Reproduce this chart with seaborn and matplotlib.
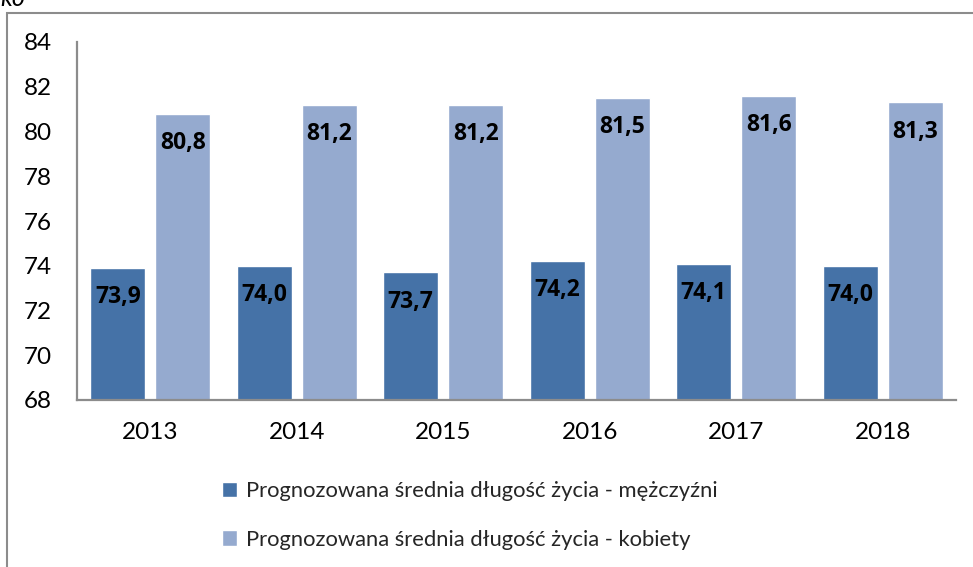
import matplotlib
matplotlib.use("Agg")
import matplotlib.pyplot as plt
import seaborn as sns
import pandas as pd
from matplotlib.patches import Rectangle

years = ["2013", "2014", "2015", "2016", "2017", "2018"]
men = [73.9, 74.0, 73.7, 74.2, 74.1, 74.0]
women = [80.8, 81.2, 81.2, 81.5, 81.6, 81.3]
series_names = ["Prognozowana średnia długość życia - mężczyźni",
                "Prognozowana średnia długość życia - kobiety"]
yticks = [68, 70, 72, 74, 76, 78, 80, 82, 84]

df = pd.DataFrame({
    "rok": years * 2,
    "wartosc": men + women,
    "seria": [series_names[0]] * len(years) + [series_names[1]] * len(years),
})

sns.set_theme(style="white")
plt.rcParams["font.family"] = ["Lato", "DejaVu Sans"]

fig = plt.figure(figsize=(9.73, 5.67), dpi=100)
ax = fig.add_axes([77 / 973, 1 - 400 / 567, (956 - 77) / 973, (400 - 42) / 567])

palette = {series_names[0]: "#4572A7", series_names[1]: "#95AACF"}
sns.barplot(data=df, x="rok", y="wartosc", hue="seria", palette=palette,
            width=0.887, gap=0.154, saturation=1, ax=ax, legend=True)

ax.set_ylim(68, 84)
ax.set_yticks(yticks)
ax.set_yticklabels([str(t) for t in yticks])
ax.set_xlabel("")
ax.set_ylabel("")
ax.tick_params(axis="both", length=0, labelsize=17.5, colors="black")
ax.tick_params(axis="y", pad=18)
ax.tick_params(axis="x", pad=16)
for s in ["top", "right"]:
    ax.spines[s].set_visible(False)
for s in ["left", "bottom"]:
    ax.spines[s].set_color("#8C8C8C")
    ax.spines[s].set_linewidth(1.6)

for cont in ax.containers:
    labels = [f"{v:.1f}".replace(".", ",") for v in cont.datavalues]
    texts = ax.bar_label(cont, labels=labels, padding=-21,
                         fontsize=16.5, fontweight="bold", color="black",
                         family=["Open Sans", "DejaVu Sans"])
    for t in texts:
        t.set_va("center")

handles, lbls = ax.get_legend_handles_labels()
ax.legend_.remove()
fig.legend(handles, lbls, loc="upper left",
           bbox_to_anchor=(222 / 973, 1 - 481 / 567), frameon=False,
           fontsize=15.8, labelspacing=1.3, handlelength=0.7, handleheight=0.7,
           handletextpad=0.4, borderaxespad=0, borderpad=0)

fig.patches.append(Rectangle((7 / 973, -0.1), 1.1, 1 - 13 / 567 + 0.1,
                             transform=fig.transFigure, fill=False,
                             edgecolor="#8C8C8C", linewidth=1.5))
fig.text(0.5 / 973, 1 + 1 / 567, "ko", fontsize=18, fontstyle="italic",
         va="center", ha="left", color="black")

fig.savefig("out.png", dpi=100)
